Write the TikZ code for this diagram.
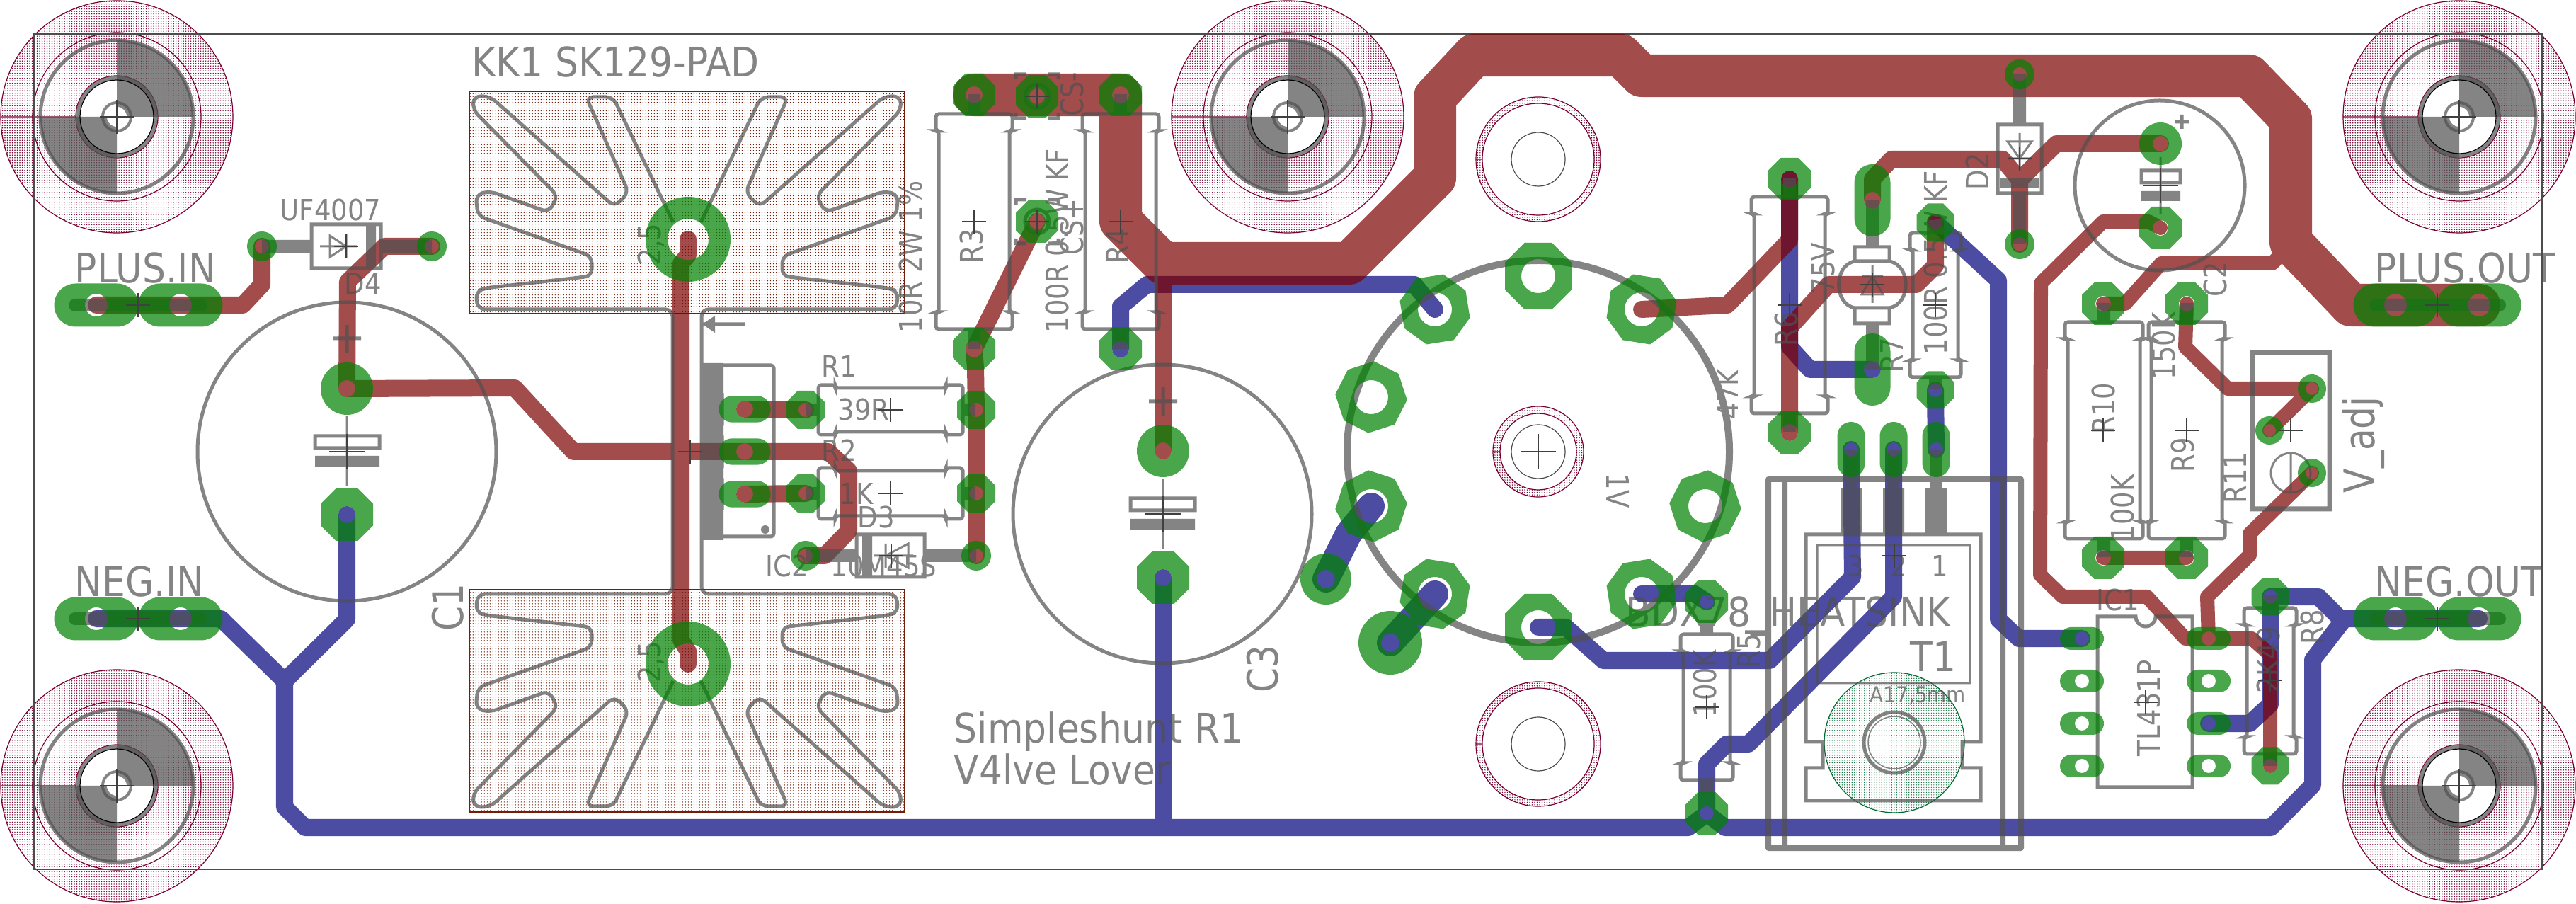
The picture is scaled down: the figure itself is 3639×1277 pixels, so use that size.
\documentclass[tikz,border=0pt]{standalone}
\usepackage{fontspec}
\setmainfont[FakeStretch=0.9]{DejaVu Sans}
\newfontfamily\upfont[FakeStretch=0.84]{DejaVu Sans}
\usetikzlibrary{patterns.meta}

\definecolor{topcu}{RGB}{125,0,0}
\definecolor{botcu}{RGB}{0,0,124}
\definecolor{padgreen}{RGB}{0,130,0}
\definecolor{silkc}{RGB}{80,80,80}
\definecolor{keepc}{RGB}{122,0,50}
\definecolor{kkc}{RGB}{115,30,10}
\definecolor{tcoolc}{RGB}{0,110,50}

\tikzset{
    toptrace/.style={draw=topcu,line width=.24cm,line cap=round,line join=round},
    bottrace/.style={draw=botcu,line width=.24cm,line cap=round,line join=round},
    padfill/.style={fill=padgreen,fill opacity=.71,even odd rule},
    silkline/.style={draw=silkc,line width=.05cm},
    silkthin/.style={draw=silkc,line width=.03cm},
    silklead/.style={draw=silkc,line width=.18cm},
    origin/.style={draw=black!75,line width=.012cm},
    keepline/.style={draw=keepc,line width=.012cm},
    keepdots/.style={pattern={Dots[distance=.035cm,radius=.008cm]},pattern color=keepc},
    kkdots/.style={pattern={Dots[distance=.04cm,radius=.007cm]},pattern color=kkc},
    silktxt/.style={text=silkc,inner sep=0pt,anchor=base west},
    bigtxt/.style={silktxt,font=\fontsize{16.4}{18}\selectfont},
    midtxt/.style={silktxt,font=\fontsize{11.7}{13}\selectfont},
    tinytxt/.style={silktxt,font=\fontsize{8.8}{10}\selectfont},
    uptxt/.style={silktxt,rotate=90,font=\upfont\fontsize{12.5}{14}\selectfont},
    upbig/.style={silktxt,rotate=90,font=\upfont\fontsize{17}{19}\selectfont}
}

\newcommand{\padoct}[4]{
    \pgfmathsetmacro{\k}{.414*#2}
    \fill[padfill,shift={(#1)},rotate=#4] (#2,\k) -- (\k,#2) -- (-\k,#2) -- (-#2,\k) -- (-#2,-\k) -- (-\k,-#2) -- (\k,-#2) -- (#2,-\k) -- cycle (0,0) circle (#3);
}
\newcommand{\padlong}[5]{
    \fill[padfill,shift={(#1)},rotate=#5] (-#2,-#3) -- (#2,-#3) arc (-90:90:#3) -- (-#2,#3) arc (90:270:#3) -- cycle (0,0) circle (#4);
}
\newcommand{\padround}[3]{
    \fill[padfill,shift={(#1)}] (0,0) circle (#2) (0,0) circle (#3);
}
\newcommand{\resbody}[6]{
    \begin{scope}[shift={(#1)},rotate=#2]
        \draw[silkline,rounded corners=.04cm] (-#3,-#4) -- ({-#3+24},-#4) -- ({-#3+24},{-#4+4}) -- ({#3-24},{-#4+4}) -- ({#3-24},-#4) -- (#3,-#4) -- (#3,#4) -- ({#3-24},#4) -- ({#3-24},{#4-4}) -- ({-#3+24},{#4-4}) -- ({-#3+24},#4) -- (-#3,#4) -- cycle;
        \draw[silklead] (-#3,0) -- ({-#3-#5},0) (#3,0) -- ({#3+#6},0);
    \end{scope}
}
\newcommand{\mounthole}[1]{
    \begin{scope}[shift={(#1)}]
        \fill[keepdots] (0,0) circle (164);
        \draw[keepline] (0,0) circle (164) (0,0) circle (119) (-164,0) -- (0,0);
        \fill[white] (0,0) circle (58);
        \draw[keepline] (0,0) circle (58);
        \fill[silkc,opacity=.7] (0,0) -- (108,0) arc (0:-90:108) -- cycle;
        \fill[silkc,opacity=.7] (0,0) -- (-108,0) arc (180:90:108) -- cycle;
        \draw[silkc,opacity=.7,line width=.05cm] (0,0) circle (108);
        \draw[silkc,opacity=.7,line width=.05cm] (0,0) circle (55);
        \draw[black,line width=.012cm] (0,0) circle (52);
        \draw[silkc,opacity=.7,line width=.04cm] (0,0) circle (20);
        \fill[white] (0,0) circle (14);
        \draw[origin] (-24,0) -- (24,0) (0,-24) -- (0,24);
    \end{scope}
}
\newcommand{\kkfin}{
    \draw[silkline,rounded corners=.1cm] (951,314) -- (866,137) -- (828,137) -- (888,272) -- (868,292) -- (692,136) -- (669,136) -- (668,155) -- (788,277) -- (775,300) -- (692,270) -- (672,275) -- (675,305) -- (836,362) -- (836,390) -- (685,407) -- (672,412) -- (675,437) -- (950,437) -- (950,638);
}

\begin{document}
\begin{tikzpicture}[x=.01cm,y=-.01cm]
        \useasboundingbox (0,0) rectangle (3639,1277);
        \fill[white] (0,0) rectangle (3639,1277);

        \coordinate (plusina) at (136,431);
        \coordinate (plusinb) at (255,431);
        \coordinate (negina) at (136,874);
        \coordinate (neginb) at (255,874);
        \coordinate (plusouta) at (3384,431);
        \coordinate (plusoutb) at (3502,431);
        \coordinate (negouta) at (3384,874);
        \coordinate (negoutb) at (3502,874);
        \coordinate (dfa) at (370,348);
        \coordinate (dfb) at (610,348);
        \coordinate (conep) at (490,549);
        \coordinate (conen) at (490,727);
        \coordinate (kka) at (972,338);
        \coordinate (kkb) at (972,938);
        \coordinate (ica) at (1052,578);
        \coordinate (icb) at (1052,638);
        \coordinate (icc) at (1052,698);
        \coordinate (roa) at (1138,579);
        \coordinate (rob) at (1379,579);
        \coordinate (rta) at (1138,697);
        \coordinate (rtb) at (1379,697);
        \coordinate (dta) at (1138,785);
        \coordinate (dtb) at (1379,785);
        \coordinate (rtha) at (1376,134);
        \coordinate (rthb) at (1376,493);
        \coordinate (rfa) at (1583,134);
        \coordinate (rfb) at (1583,493);
        \coordinate (csm) at (1465,136);
        \coordinate (csp) at (1465,313);
        \coordinate (cthp) at (1643,637);
        \coordinate (cthn) at (1643,816);
        \coordinate (sockm) at (2173,638);
        \coordinate (socka) at (2173,390);
        \coordinate (sockb) at (2319,437);
        \coordinate (sockc) at (2409,715);
        \coordinate (sockd) at (2319,839);
        \coordinate (socke) at (2173,886);
        \coordinate (sockf) at (2027,839);
        \coordinate (sockg) at (1937,715);
        \coordinate (sockh) at (1937,561);
        \coordinate (socki) at (2027,437);
        \coordinate (bla) at (1873,818);
        \coordinate (blb) at (1964,908);
        \coordinate (rsa) at (2528,253);
        \coordinate (rsb) at (2528,611);
        \coordinate (zna) at (2645,283);
        \coordinate (znb) at (2645,522);
        \coordinate (rsva) at (2734,314);
        \coordinate (rsvb) at (2734,551);
        \coordinate (tpa) at (2615,635);
        \coordinate (tpb) at (2675,635);
        \coordinate (tpc) at (2735,635);
        \coordinate (rva) at (2411,850);
        \coordinate (rvb) at (2411,1149);
        \coordinate (dda) at (2853,105);
        \coordinate (ddb) at (2853,345);
        \coordinate (ctwp) at (3052,203);
        \coordinate (ctwn) at (3052,322);
        \coordinate (rna) at (2971,429);
        \coordinate (rnb) at (2971,788);
        \coordinate (rma) at (3089,429);
        \coordinate (rmb) at (3089,788);
        \coordinate (pota) at (3266,549);
        \coordinate (potb) at (3206,608);
        \coordinate (potc) at (3266,668);
        \coordinate (ioa) at (2941,902);
        \coordinate (iob) at (2941,962);
        \coordinate (ioc) at (2941,1022);
        \coordinate (iod) at (2941,1082);
        \coordinate (ioe) at (3120,902);
        \coordinate (iof) at (3120,962);
        \coordinate (iog) at (3120,1022);
        \coordinate (ioh) at (3120,1082);
        \coordinate (rea) at (3207,843);
        \coordinate (reb) at (3207,1082);

        \fill[kkdots] (663,129) rectangle (1278,443);
        \fill[kkdots] (663,833) rectangle (1278,1147);
        \draw[draw=kkc,line width=.012cm] (663,129) rectangle (1278,443);
        \draw[draw=kkc,line width=.012cm] (663,833) rectangle (1278,1147);

        \mounthole{165,165}
        \mounthole{165,1110}
        \mounthole{1819,165}
        \mounthole{3474,165}
        \mounthole{3474,1110}

        \foreach \cy/\ro/\ri in {225/88/79,638/64/54,1051/88/79}{
            \fill[keepdots,even odd rule] (2173,\cy) circle (\ro) (2173,\cy) circle (\ri);
            \draw[keepline] (2173,\cy) circle (\ro) (2173,\cy) circle (\ri) ({2173-\ro},\cy) -- ({2173-\ri},\cy);
            \draw[draw=black!70,line width=.012cm] (2173,\cy) circle (38);
        }

        \fill[pattern={Dots[distance=.035cm,radius=.007cm]},pattern color=tcoolc] (2676,1049) circle (99);
        \draw[draw=tcoolc,line width=.012cm] (2676,1049) circle (99);

        \draw[draw=black!70,line width=.012cm] (48,48) rectangle (3591,1228);

        \begin{scope}[transparency group,opacity=.7]
            \draw[bottrace] (negina) -- (312,874) -- (402,962) -- (402,1140) -- (431,1169) -- (2385,1169) -- (rvb) -- (2437,1169) -- (3208,1169) -- (3267,1109) -- (3267,932) -- (3312,874) -- (negoutb);
            \draw[bottrace] (conen) -- (490,875) -- (402,962);
            \draw[bottrace] (cthn) -- (1643,1169);
            \draw[bottrace] (rfb) -- (1583,433) -- (1620,402) -- (1998,402) -- (socki);
            \draw[bottrace,line width=.38cm] (bla) -- (1905,754) -- (sockg);
            \draw[bottrace,line width=.38cm] (blb) -- (sockf);
            \draw[bottrace] (rsa) -- (2528,490) -- (2557,522) -- (znb);
            \draw[bottrace] (rsvb) -- (tpc);
            \draw[bottrace] (tpa) -- (2617,815) -- (2500,933) -- (2265,933) -- (2212,886) -- (socke);
            \draw[bottrace] (tpb) -- (2675,843) -- (2470,1051) -- (2439,1051) -- (2411,1079) -- (rvb);
            \draw[bottrace] (sockd) -- (2392,838) -- (rva);
            \draw[bottrace] (rsva) -- (2823,396) -- (2823,875) -- (2852,902) -- (ioa);
            \draw[bottrace] (rea) -- (3275,843) -- (3306,874);
            \draw[bottrace] (rea) -- (3207,995) -- (3178,1022) -- (iog);
        \end{scope}

        \begin{scope}[transparency group,opacity=.7]
            \draw[toptrace,line width=.6cm] (rtha) -- (rfa) -- (1583,312) -- (1643,372) -- (1906,372) -- (2027,251) -- (2027,137) -- (2082,78) -- (2290,78) -- (2319,107) -- (3177,107) -- (3236,168) -- (3236,342) -- (3321,431) -- (plusoutb);
            \draw[toptrace] (plusina) -- (343,431) -- (370,402) -- (dfa);
            \draw[toptrace] (dfb) -- (543,348) -- (491,398) -- (conep);
            \draw[toptrace] (conep) -- (727,548) -- (810,638) -- (icb) -- (1170,638) -- (1199,665) -- (1199,750) -- (1165,785) -- (dta);
            \draw[toptrace] (kka) -- (972,360) -- (962,372) -- (962,904) -- (972,920) -- (kkb);
            \draw[toptrace] (ica) -- (roa);
            \draw[toptrace] (icc) -- (rta);
            \draw[toptrace] (rthb) -- (csp);
            \draw[toptrace] (rthb) -- (1378,520) -- (rob) -- (rtb) -- (dtb);
            \draw[toptrace] (1643,372) -- (cthp);
            \draw[toptrace] (rsa) -- (2528,339) -- (2440,431) -- (sockb);
            \draw[toptrace] (rsb) -- (2528,463) -- (2583,402) -- (2707,402) -- (2734,375) -- (rsva);
            \draw[toptrace] (zna) -- (2645,253) -- (2672,225) -- (2829,225) -- (2853,254) -- (ddb);
            \draw[toptrace] (ctwp) -- (2905,203) -- (2853,254);
            \draw[toptrace,line width=.2cm] (ctwn) -- (3035,313) -- (2971,313) -- (2883,400) -- (2882,812) -- (2914,843) -- (3033,843) -- (3087,902) -- (3181,902) -- (3207,925) -- (reb);
            \draw[toptrace,line width=.2cm] (ioe) -- (3118,843) -- (3178,784) -- (3178,754) -- (potc);
            \draw[toptrace,line width=.2cm] (rnb) -- (rmb);
            \draw[toptrace,line width=.2cm] (rna) -- (3002,429) -- (3053,372) -- (3210,372) -- (3236,345);
            \draw[toptrace,line width=.2cm] (rma) -- (3087,490) -- (3147,549) -- (pota) -- (potb);
        \end{scope}

        \begin{scope}[transparency group,opacity=.7]
            \foreach \sx/\dx in {1/0,-1/1941}
                \foreach \sy/\dy in {1/0,-1/1276}{
                    \begin{scope}[shift={(\dx,\dy)},xscale=\sx,yscale=\sy]
                        \kkfin
                    \end{scope}
                }

            \draw[line width=.18cm,draw=silkc,line cap=round] (106,431) -- (284,431);
            \draw[line width=.18cm,draw=silkc,line cap=round] (106,874) -- (284,874);
            \draw[line width=.18cm,draw=silkc,line cap=round] (3356,431) -- (3531,431);
            \draw[line width=.18cm,draw=silkc,line cap=round] (3356,874) -- (3531,874);

            \draw[silklead] (dfa) -- (440,348) (538,348) -- (dfb);
            \draw[silkline] (440,317) rectangle (538,379);
            \fill[silkc] (517,317) rectangle (531,379);
            \draw[silkthin] (466,333) -- (466,363) -- (489,348) -- cycle (489,331) -- (489,365) (452,348) -- (505,348);

            \draw[silkline] (490,638) circle (211);
            \draw[silkline] (471,478) -- (510,478) (490,459) -- (490,499);
            \draw[silkline] (445,616) rectangle (536,633);
            \fill[silkc] (445,644) rectangle (536,659);
            \draw[silkthin] (490,588) -- (490,687);

            \draw[silkline] (1642,726) circle (211);
            \draw[silkline] (1623,567) -- (1663,567) (1643,547) -- (1643,587);
            \draw[silkline] (1597,704) rectangle (1688,721);
            \fill[silkc] (1597,733) rectangle (1688,748);
            \draw[silkthin] (1643,677) -- (1643,776);

            \draw[silkline] (3051,262) circle (120);
            \draw[silkline] (3072,172) -- (3092,172) (3082,162) -- (3082,182);
            \draw[silkline] (3025,241) rectangle (3080,258);
            \fill[silkc] (3025,270) rectangle (3080,284);
            \draw[silkthin] (3052,222) -- (3052,302);

            \resbody{1376,313}{90}{152}{54}{28}{28}
            \resbody{1583,313}{90}{152}{54}{28}{28}
            \resbody{1258,579}{0}{102}{35}{18}{18}
            \resbody{1258,697}{0}{102}{36}{18}{18}
            \resbody{2528,431}{90}{153}{54}{26}{26}
            \resbody{2734,431}{90}{102}{36}{17}{18}
            \resbody{2411,999}{90}{103}{37}{20}{20}
            \resbody{3207,962}{90}{103}{37}{17}{18}
            \resbody{2972,608}{90}{153}{55}{26}{27}
            \resbody{3089,608}{90}{153}{54}{26}{27}

            \draw[silkline] (1465,136) circle (17);
            \draw[silkline] (1465,313) circle (17);
            \draw[silkline] (1435,112) -- (1435,105) -- (1450,105) (1480,105) -- (1495,105) -- (1495,112) (1435,160) -- (1435,167) -- (1450,167) (1480,167) -- (1495,167) -- (1495,160);
            \draw[silkline] (1435,289) -- (1435,282) -- (1450,282) (1480,282) -- (1495,282) -- (1495,289) (1435,337) -- (1435,344) -- (1450,344) (1480,344) -- (1495,344) -- (1495,337);

            \fill[silkc] (993,513) rectangle (1022,763);
            \draw[silkline,rounded corners=.04cm] (1022,516) -- (1093,516) -- (1093,758) -- (1022,758);
            \fill[silkc] (1081,748) circle (6);
            \draw[silkthin] (1010,557) rectangle (1021,600) (1010,617) rectangle (1021,660) (1010,677) rectangle (1021,719);
            \draw[silkline] (991,458) -- (1052,458);
            \fill[silkc] (992,458) -- (1010,446) -- (1010,470) -- cycle;

            \draw[silklead] (dta) -- (1210,785) (1306,785) -- (dtb);
            \draw[silkline] (1210,755) rectangle (1306,815);
            \fill[silkc] (1218,755) rectangle (1232,815);
            \draw[silkthin] (1283,768) -- (1283,802) -- (1251,785) -- cycle (1251,768) -- (1251,802) (1235,785) -- (1290,785);

            \draw[draw=silkc,line width=.1cm] (sockm) circle (270);

            \draw[draw=silkc,line width=.08cm,line join=round] (2498,677) rectangle (2855,1198);
            \draw[draw=silkc,line width=.08cm] (2521,677) -- (2521,1198) (2829,677) -- (2829,1198);
            \draw[draw=silkc,line width=.16cm] (tpa) -- (2615,690) (tpb) -- (2675,690) (tpc) -- (2735,690);
            \draw[draw=silkc,line width=.3cm] (2615,690) -- (2615,755) (2675,690) -- (2675,755) (2735,690) -- (2735,755);
            \draw[silkline] (2551,755) -- (2798,755) -- (2798,1048) -- (2772,1048) -- (2772,1085) -- (2798,1085) -- (2798,1131) -- (2551,1131) -- (2551,1085) -- (2575,1085) -- (2575,1048) -- (2551,1048) -- cycle;
            \draw[silkthin] (2567,770) rectangle (2783,965);
            \draw[silkline] (2676,1049) circle (43);
            \draw[draw=silkc,line width=.015cm] (2676,1049) circle (37);

            \draw[silklead] (zna) -- (2645,349) (2645,457) -- (znb);
            \draw[silkline] (2620,369) -- (2620,349) -- (2669,349) -- (2669,369) .. controls (2700,375) and (2700,429) .. (2669,435) -- (2669,457) -- (2620,457) -- (2620,435) .. controls (2590,429) and (2590,375) .. (2620,369) -- (2669,369) (2620,435) -- (2669,435);
            \draw[silkthin] (2630,416) -- (2660,416) -- (2645,390) -- cycle (2630,390) -- (2660,390) (2645,375) -- (2645,428);

            \draw[silklead] (dda) -- (2853,176) (2853,273) -- (ddb);
            \draw[silkline] (2822,176) rectangle (2884,273);
            \fill[silkc] (2826,252) rectangle (2880,265);
            \draw[silkthin] (2836,200) -- (2870,200) -- (2853,224) -- cycle (2836,224) -- (2870,224) (2853,188) -- (2853,240);

            \draw[draw=silkc,line width=.07cm] (3182,498) rectangle (3291,719);
            \draw[silkthin] (3236,668) circle (28) (3236,640) -- (3236,696);

            \draw[silkline] (2963,871) -- (3017,871) arc (180:0:14) -- (3097,871) -- (3097,1112) -- (2963,1112) -- cycle;

            \draw[silkline] (2465,893) -- (2497,893);

            \node[bigtxt] (lblkk) at (666,109) {KK1 SK129-PAD};
            \node[bigtxt] (lblplusin) at (105,400) {PLUS.IN};
            \node[bigtxt] (lblnegin) at (105,843) {NEG.IN};
            \node[bigtxt] (lblplusout) at (3354,400) {PLUS.OUT};
            \node[bigtxt] (lblnegout) at (3354,843) {NEG.OUT};
            \node[midtxt] (lbluf) at (395,312) {UF4007};
            \node[midtxt] (lbldf) at (486,416) {D4};
            \node[midtxt] (lblro) at (1160,533) {R1};
            \node[midtxt] (lblrov) at (1183,594) {39R};
            \node[midtxt] (lblrt) at (1160,652) {R2};
            \node[midtxt] (lblrtv) at (1185,713) {1K};
            \node[midtxt] (lbldt) at (1211,746) {D3};
            \node[midtxt] (lblict) at (1081,815) {IC2};
            \node[midtxt] (lbldtv) at (1173,815) {10M45S};
            \node[bigtxt] (lblsimple) at (1347,1050) {Simpleshunt R1};
            \node[bigtxt] (lblvalve) at (1347,1109) {V4lve Lover};
            \node[bigtxt] (lblheat) at (2296,886) {BDX78\_HEATSINK};
            \node[bigtxt] (lblt) at (2698,949) {T1};
            \node[tinytxt] (lblhole) at (2641,993) {A17,5mm};
            \node[midtxt] (lblpa) at (2609,815) {3};
            \node[midtxt] (lblpb) at (2670,815) {2};
            \node[midtxt] (lblpc) at (2728,815) {1};
            \node[midtxt] (lblico) at (2961,863) {IC1};
            \node[upbig] (lblco) at (654,892) {C1};
            \node[upbig] (lblcth) at (1805,979) {C3};
            \node[uptxt] (lblrth) at (1302,471) {10R 2W 1\%};
            \node[uptxt] (lblrx) at (1509,471) {100R 0.5W KF};
            \node[uptxt] (lblrtht) at (1388,373) {R3};
            \node[uptxt] (lblrf) at (1594,373) {R4};
            \node[uptxt] (lblcsp) at (1530,361) {CS+};
            \node[uptxt] (lblcsm) at (1530,165) {CS-};
            \node[uptxt] (lblrs) at (2539,490) {R6};
            \node[uptxt] (lblzv) at (2591,416) {75V};
            \node[uptxt] (lblrsv) at (2688,527) {R7};
            \node[uptxt] (lblrsvv) at (2750,502) {100R 0.5W KF};
            \node[uptxt] (lbldd) at (2809,269) {D2};
            \node[uptxt] (lblctw) at (3145,420) {C2};
            \node[uptxt] (lblrm) at (3072,537) {150K};
            \node[uptxt] (lblrn) at (2987,614) {R10};
            \node[uptxt] (lblrnv) at (3014,766) {100K};
            \node[uptxt] (lblrmt) at (3099,668) {R9};
            \node[uptxt] (lblrel) at (3173,712) {R11};
            \node[upbig] (lbladj) at (3354,697) {V\_adj};
            \node[uptxt] (lbltl) at (3051,1069) {TL431P};
            \node[uptxt] (lblre) at (3282,911) {R8};
            \node[uptxt] (lblrev) at (3220,980) {2K49};
            \node[uptxt] (lblrvv) at (2424,1014) {100K};
            \node[uptxt] (lblrv) at (2486,945) {R5};
            \node[uptxt] (lblkka) at (933,375) {2,5};
            \node[uptxt] (lblkkb) at (933,965) {2,5};
            \node[silktxt,rotate=-90,font=\upfont\fontsize{12.5}{14}\selectfont] (lblsock) at (2269,668) {1V};
            \begin{scope}
                \clip (2400,510) rectangle (2454,600);
                \node[uptxt] (lblsockv) at (2458,593) {47K};
            \end{scope}
        \end{scope}

        \padlong{plusina}{29}{30.5}{16}{0}
        \padlong{plusinb}{29}{30.5}{16}{0}
        \padlong{negina}{29}{30.5}{16}{0}
        \padlong{neginb}{29}{30.5}{16}{0}
        \padlong{plusouta}{29}{30.5}{16}{0}
        \padlong{plusoutb}{29}{30.5}{16}{0}
        \padlong{negouta}{29}{30.5}{16}{0}
        \padlong{negoutb}{29}{30.5}{16}{0}
        \padround{dfa}{21}{10}
        \padround{dfb}{21}{10}
        \padround{conep}{37}{12}
        \padoct{conen}{37}{12}{0}
        \padround{kka}{60}{29}
        \padround{kkb}{60}{29}
        \padlong{ica}{18}{18.6}{12}{0}
        \padlong{icb}{18}{18.6}{12}{0}
        \padlong{icc}{18}{18.6}{12}{0}
        \padoct{roa}{27}{10}{0}
        \padoct{rob}{27}{10}{0}
        \padoct{rta}{27}{10}{0}
        \padoct{rtb}{27}{10}{0}
        \padround{dta}{21}{10}
        \padround{dtb}{21}{10}
        \padoct{rtha}{30}{12}{0}
        \padoct{rthb}{30}{12}{0}
        \padoct{rfa}{30}{12}{0}
        \padoct{rfb}{30}{12}{0}
        \padoct{csm}{30}{11}{0}
        \padoct{csp}{30}{11}{0}
        \padround{cthp}{37}{12}
        \padoct{cthn}{37}{12}{0}
        \padoct{socka}{47}{24}{0}
        \padoct{sockb}{47}{24}{36}
        \padoct{sockc}{47}{24}{108}
        \padoct{sockd}{47}{24}{144}
        \padoct{socke}{47}{24}{180}
        \padoct{sockf}{47}{24}{216}
        \padoct{sockg}{47}{24}{252}
        \padoct{sockh}{47}{24}{288}
        \padoct{socki}{47}{24}{324}
        \padround{bla}{36}{13}
        \padround{blb}{45}{13}
        \padoct{rsa}{30}{12}{0}
        \padoct{rsb}{30}{12}{0}
        \padlong{zna}{25.5}{25.5}{12}{90}
        \padlong{znb}{25.5}{25.5}{12}{90}
        \padoct{rsva}{26.5}{10}{0}
        \padoct{rsvb}{26.5}{10}{0}
        \padlong{tpa}{19.5}{19.5}{10}{90}
        \padlong{tpb}{19.5}{19.5}{10}{90}
        \padlong{tpc}{19.5}{19.5}{10}{90}
        \padoct{rva}{30}{10}{0}
        \padoct{rvb}{30}{10}{0}
        \padround{dda}{21}{10}
        \padround{ddb}{21}{10}
        \padround{ctwp}{30}{11}
        \padoct{ctwn}{30}{11}{0}
        \padoct{rna}{30}{11}{0}
        \padoct{rnb}{30}{11}{0}
        \padoct{rma}{30}{11}{0}
        \padoct{rmb}{30}{11}{0}
        \padround{pota}{20}{9}
        \padround{potb}{20}{9}
        \padround{potc}{20}{9}
        \padlong{ioa}{15}{16}{10}{0}
        \padlong{iob}{15}{16}{10}{0}
        \padlong{ioc}{15}{16}{10}{0}
        \padlong{iod}{15}{16}{10}{0}
        \padlong{ioe}{15}{16}{10}{0}
        \padlong{iof}{15}{16}{10}{0}
        \padlong{iog}{15}{16}{10}{0}
        \padlong{ioh}{15}{16}{10}{0}
        \padoct{rea}{26.5}{10}{0}
        \padoct{reb}{26.5}{10}{0}

        \foreach \ox/\oy in {195/431,195/874,489/348,975/638,1376/313,1583/313,1258/579,1258/697,1259/785,1465/136,1465/313,2528/431,2645/402,2734/431,2411/999,2676/785,3031/992,3207/961,2971/608,3089/608,3236/608,2853/224,3443/431,3443/874}
            \draw[origin] ({\ox-17},\oy) -- ({\ox+17},\oy) (\ox,{\oy-17}) -- (\ox,{\oy+17});
        \foreach \ox/\oy in {490/638,1643/726,3052/262,2173/638}
            \draw[origin] ({\ox-25},\oy) -- ({\ox+25},\oy) (\ox,{\oy-25}) -- (\ox,{\oy+25});

    \end{tikzpicture}
\end{document}
